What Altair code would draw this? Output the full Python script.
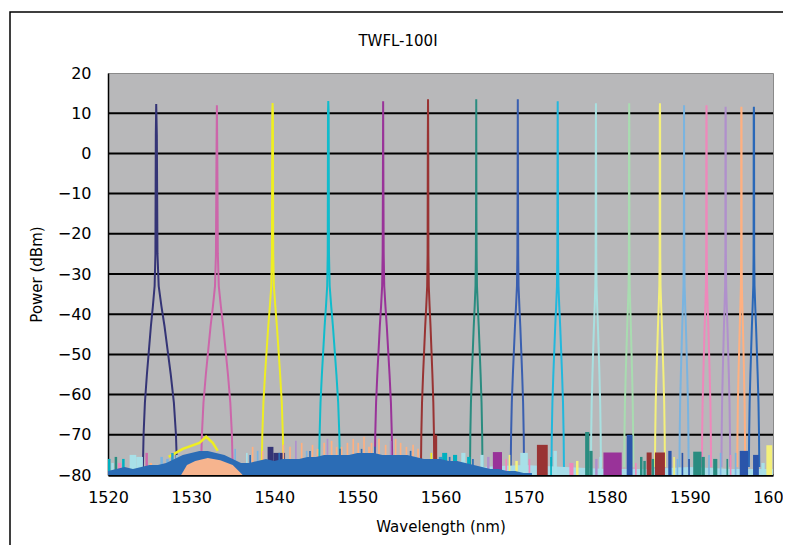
import altair as alt
import pandas as pd

# ---------------- data ----------------
# laser lines: centre wavelength (nm), peak power (dBm), shoulder level where the
# trace becomes double, half-width at the noise floor (left / right, nm), colour
centers = [1525.8, 1533.1, 1539.8, 1546.5, 1553.1, 1558.5, 1564.3, 1569.3, 1574.1,
           1578.7, 1582.7, 1586.4, 1589.3, 1592.0, 1594.3, 1596.2, 1597.7]
peaks = [12.3, 12.0, 12.5, 13.0, 13.0, 13.5, 13.5, 13.5, 13.0,
         12.5, 12.5, 12.5, 12.0, 12.0, 11.6, 11.6, 11.6]
shoulders = [4.6, -3.4, 10.4, 10.4, -8.3, 2.6, -14.5, -10.3, -5.0,
             -0.8, 7.0, 10.5, -15.3, 6.3, 8.3, 10.0, 9.3]
half_left = [1.6, 1.9, 1.3, 1.1, 1.0, 0.85, 0.75, 0.85, 0.75,
             0.6, 0.6, 0.6, 0.55, 0.55, 0.5, 0.5, 0.6]
half_right = [2.5, 1.9, 1.3, 1.4, 1.1, 0.75, 0.75, 0.75, 0.75,
              0.6, 0.5, 0.6, 0.55, 0.55, 0.55, 0.45, 0.65]
line_colors = ["#343476", "#cc66aa", "#eeee22", "#10bccc", "#993399", "#993333",
               "#2a8c80", "#3a5fb0", "#22b8dd", "#a8e0e0", "#a8dcb0", "#f4f07a",
               "#7ab4e0", "#ee88bb", "#b090cc", "#ffb080", "#2a68b8"]

# common skirt shape of a line (fraction of the half-width, dBm)
skirt_frac = [1.0, 0.95, 0.85, 0.70, 0.55, 0.40, 0.25, 0.12, 0.06]
skirt_db = [-78, -70, -62, -55, -49, -43, -38, -33, -25]
shoulder_frac = 0.03

# blue noise floor, one value per nm from 1520 to 1571
floor_x = list(range(1520, 1572))
floor_db = [-79, -78.5, -78, -78.5, -78, -77.5, -77.5, -77, -76, -75,
            -74.5, -74, -74, -74.5, -75, -76, -77, -77, -76.5, -76,
            -76.5, -76, -76, -76, -75.5, -75.5, -75, -75, -75, -75,
            -74.5, -74.5, -74.5, -75, -75, -75, -75, -75.5, -76, -76,
            -76, -76.5, -76.5, -77, -77.5, -78, -78.5, -78.5, -79, -79,
            -79.5, -79.5]

# peach hump under the blue arc
hump_x = [1528.8, 1529.5, 1530.5, 1532.0, 1533.5, 1535.0, 1536.2]
hump_db = [-80, -77.5, -76.5, -75.8, -76.3, -77.5, -80]

# yellow ASE hump
yhump_x = [1527.3, 1529.0, 1531.0, 1531.8, 1532.6, 1533.2]
yhump_db = [-75.5, -73.5, -72.0, -70.5, -72.0, -74.0]

# light mixed noise along the bottom on the long-wavelength side
low_x = [1560, 1565, 1570, 1575, 1580, 1585, 1590, 1595, 1600]
low_db = [-78.5, -78, -77.5, -78, -78.5, -78.5, -78, -78.5, -78.5]

# noise spikes: start (nm), end (nm), top (dBm), colour
CY, LC, TL, PK, MG, PE, LB, SB = "#00b0c0", "#a8e0e8", "#2a8c80", "#ee88bb", "#cc66aa", "#ffb080", "#7ab4e0", "#2a9fd0"
NV, LV, YL, LY, DR, PU, BL, FB = "#343476", "#b090cc", "#eeee22", "#f4f07a", "#993333", "#993399", "#2a55aa", "#2b6cb5"
spike_x0 = [1520.0, 1520.4, 1520.8, 1521.2, 1521.7, 1522.6, 1523.4, 1524.5, 1525.0, 1526.3,
            1527.0, 1527.6, 1528.2, 1535.2, 1536.6, 1537.3, 1537.9, 1538.5, 1539.2, 1539.9,
            1541.0, 1541.8, 1542.5, 1543.2, 1543.8, 1544.5, 1545.1, 1545.9, 1546.3, 1546.8,
            1547.4, 1548.0, 1548.7, 1549.4, 1550.0, 1550.7, 1551.3, 1551.6, 1552.5, 1553.3,
            1553.9, 1554.5, 1555.1, 1555.8, 1556.6, 1557.2, 1558.8, 1559.2, 1559.8, 1560.2,
            1561.5, 1562.5, 1563.2, 1564.8, 1565.6, 1566.3, 1567.8, 1568.2, 1569.0, 1569.6,
            1570.6, 1571.6, 1573.2, 1573.6, 1575.5, 1576.3, 1577.4, 1577.9, 1578.6, 1579.1,
            1579.6, 1582.4, 1583.4, 1584.0, 1584.4, 1584.8, 1585.4, 1585.8, 1587.4, 1588.0,
            1588.4, 1589.0, 1589.8, 1590.4, 1591.4, 1592.2, 1592.8, 1593.6, 1594.4, 1594.8,
            1595.4, 1596.0, 1597.6, 1598.6, 1599.2,
            1537.0, 1540.5, 1544.2, 1547.8, 1550.4, 1552.0, 1556.3, 1561.0, 1563.8]
spike_x1 = [1520.3, 1520.7, 1521.1, 1521.6, 1522.0, 1523.4, 1524.2, 1524.8, 1525.3, 1526.6,
            1527.3, 1527.9, 1528.4, 1535.4, 1536.8, 1537.5, 1538.1, 1538.7, 1539.9, 1541.3,
            1541.2, 1542.0, 1542.7, 1543.4, 1544.0, 1544.7, 1545.3, 1546.1, 1546.5, 1547.0,
            1547.6, 1548.2, 1548.9, 1549.6, 1550.2, 1550.9, 1551.5, 1551.8, 1552.7, 1553.5,
            1554.1, 1554.7, 1555.3, 1556.0, 1556.8, 1557.4, 1559.0, 1559.6, 1560.2, 1560.8,
            1562.0, 1563.0, 1563.6, 1565.2, 1565.9, 1567.4, 1568.0, 1568.4, 1569.3, 1570.5,
            1570.8, 1572.9, 1573.4, 1574.0, 1576.0, 1576.6, 1577.9, 1578.3, 1578.9, 1579.4,
            1581.8, 1583.1, 1583.6, 1584.3, 1584.7, 1585.4, 1585.7, 1587.0, 1587.8, 1588.2,
            1588.6, 1589.2, 1590.0, 1591.4, 1591.8, 1592.4, 1593.3, 1593.8, 1594.6, 1595.0,
            1595.6, 1597.0, 1598.3, 1599.0, 1599.9,
            1537.2, 1540.7, 1544.4, 1548.0, 1550.6, 1552.2, 1556.5, 1561.2, 1564.0]
spike_top = [-76, -77, -75.5, -77, -76, -75, -75.5, -74.5, -77, -75.5,
             -76, -74.5, -75, -73.5, -74.5, -73, -74, -74, -73, -74.5,
             -72.5, -73, -71.5, -72, -74, -72.5, -73.5, -72, -71, -71.5,
             -73, -73, -72, -71, -72, -70.5, -73, -72, -71, -72.5,
             -71.5, -71, -72, -73, -72.5, -73.5, -74.5, -70, -75.5, -74.5,
             -75, -74.5, -75.5, -75, -75.5, -74.3, -76, -75, -76.5, -74.5,
             -76, -72.5, -75.5, -74, -77, -76.5, -69.3, -74, -76, -75.5,
             -74.4, -70, -77, -75.5, -76.5, -74.4, -76, -74.4, -74, -75.5,
             -76, -74.5, -76, -74.2, -75.5, -75, -76, -74.5, -76, -75,
             -74.5, -74, -75, -77, -72.6,
             -75, -74.5, -74, -73.5, -73.5, -73, -74, -75.5, -76]
spike_color = [CY, LC, TL, PK, CY, LC, LC, MG, PE, LB,
               LB, SB, LC, LB, LC, PE, LB, PE, NV, NV,
               PE, PE, LV, PE, LB, PE, PE, PE, LV, PE,
               PE, PE, PE, PE, PE, PE, PE, PE, PE, PE,
               LV, PE, PE, PE, PE, PE, YL, DR, SB, CY,
               CY, LC, CY, LC, LV, PU, PK, LY, LY, LC,
               PK, DR, CY, LC, PK, LY, TL, TL, LV, LC,
               PU, BL, PK, TL, TL, DR, TL, DR, BL, LY,
               LB, BL, BL, TL, TL, LB, TL, LB, TL, PK,
               LB, BL, BL, LC, LY,
               FB, FB, FB, FB, FB, FB, FB, FB, FB]

grid_levels = [-70, -60, -50, -40, -30, -20, -10, 0, 10]

# ---------------- tables ----------------
rows = []
for i, c in enumerate(centers):
    name = f"L{i:02d}"
    pts = []
    for f, d in zip(skirt_frac, skirt_db):
        pts.append((c - half_left[i] * f, d))
    pts.append((c - half_left[i] * shoulder_frac, shoulders[i]))
    pts.append((c, peaks[i]))
    pts.append((c + half_right[i] * shoulder_frac, shoulders[i]))
    for f, d in reversed(list(zip(skirt_frac, skirt_db))):
        pts.append((c + half_right[i] * f, d))
    for k, (x, y) in enumerate(pts):
        rows.append({"line": name, "order": k, "wl": x, "p": y})
lines_df = pd.DataFrame(rows)
names = [f"L{i:02d}" for i in range(len(centers))]

floor_df = pd.DataFrame({"wl": floor_x, "p": floor_db, "base": -80})
hump_df = pd.DataFrame({"wl": hump_x, "p": hump_db, "base": -80})
yhump_df = pd.DataFrame({"wl": yhump_x, "p": yhump_db})
low_df = pd.DataFrame({"wl": low_x, "p": low_db, "base": -80})
spikes_df = pd.DataFrame({"x0": spike_x0, "x1": spike_x1, "top": spike_top,
                          "base": -80, "c": spike_color})
grid_df = pd.DataFrame({"g": grid_levels})

FONT = "DejaVu Sans"
xs = alt.Scale(domain=[1520, 1600], nice=False, zero=False)
ys = alt.Scale(domain=[-80, 20], nice=False, zero=False)

x_axis = alt.Axis(values=list(range(1520, 1601, 10)), format="d", title="Wavelength (nm)",
                  grid=False, ticks=False, tickSize=0, labelPadding=14,
                  labelFont=FONT, labelFontSize=16, labelColor="black",
                  titleFont=FONT, titleFontSize=15, titleFontWeight="normal",
                  titleColor="black", titlePadding=14,
                  domainColor="black", domainWidth=2.5, labelFlush=False)
y_axis = alt.Axis(values=list(range(-80, 21, 10)), format="d", title="Power (dBm)",
                  grid=False, ticks=False, tickSize=0, labelPadding=17,
                  labelFont=FONT, labelFontSize=16, labelColor="black",
                  titleFont=FONT, titleFontSize=15, titleFontWeight="normal",
                  titleColor="black", titlePadding=13,
                  domainColor="black", domainWidth=1.5)

grid = alt.Chart(grid_df).mark_rule(color="black", strokeWidth=2).encode(
    y=alt.Y("g:Q", scale=ys, axis=y_axis))

lines = alt.Chart(lines_df).mark_line(strokeWidth=2).encode(
    x=alt.X("wl:Q", scale=xs, axis=x_axis),
    y=alt.Y("p:Q", scale=ys),
    color=alt.Color("line:N", scale=alt.Scale(domain=names, range=line_colors), legend=None),
    order="order:Q")

yhump = alt.Chart(yhump_df).mark_line(color="#eeee22", strokeWidth=2.5).encode(
    x=alt.X("wl:Q", scale=xs), y=alt.Y("p:Q", scale=ys))

low = alt.Chart(low_df).mark_area(color="#a8dce8").encode(
    x=alt.X("wl:Q", scale=xs), y=alt.Y("p:Q", scale=ys), y2="base:Q")

floor = alt.Chart(floor_df).mark_area(color="#2b6cb5").encode(
    x=alt.X("wl:Q", scale=xs), y=alt.Y("p:Q", scale=ys), y2="base:Q")

hump = alt.Chart(hump_df).mark_area(color="#f6b48e").encode(
    x=alt.X("wl:Q", scale=xs), y=alt.Y("p:Q", scale=ys), y2="base:Q")

spikes = alt.Chart(spikes_df).mark_rect().encode(
    x=alt.X("x0:Q", scale=xs), x2="x1:Q",
    y=alt.Y("top:Q", scale=ys), y2="base:Q",
    color=alt.Color("c:N", scale=None))

title_txt = alt.Chart(pd.DataFrame({"t": ["TWFL-100I"]})).mark_text(
    font=FONT, fontSize=15, color="black", clip=False).encode(
    text="t:N", x=alt.value(290), y=alt.value(-32))

frame = alt.Chart(pd.DataFrame({"a": [0]})).mark_rect(
    filled=False, stroke="black", strokeWidth=1.5, clip=False).encode(
    x=alt.value(-98), x2=alt.value(720), y=alt.value(-61), y2=alt.value(520))

chart = alt.layer(grid, lines, yhump, low, spikes, floor, hump, title_txt, frame).properties(
    width=665, height=402,
    autosize=alt.AutoSizeParams(type="none"),
    padding={"left": 100, "top": 65, "right": 10, "bottom": 70},
    background="white",
).configure_view(fill="#b8b8ba", stroke="#8a8a8a", strokeWidth=1)

chart.save("out.html", embed_options={"renderer": "svg", "actions": False})
